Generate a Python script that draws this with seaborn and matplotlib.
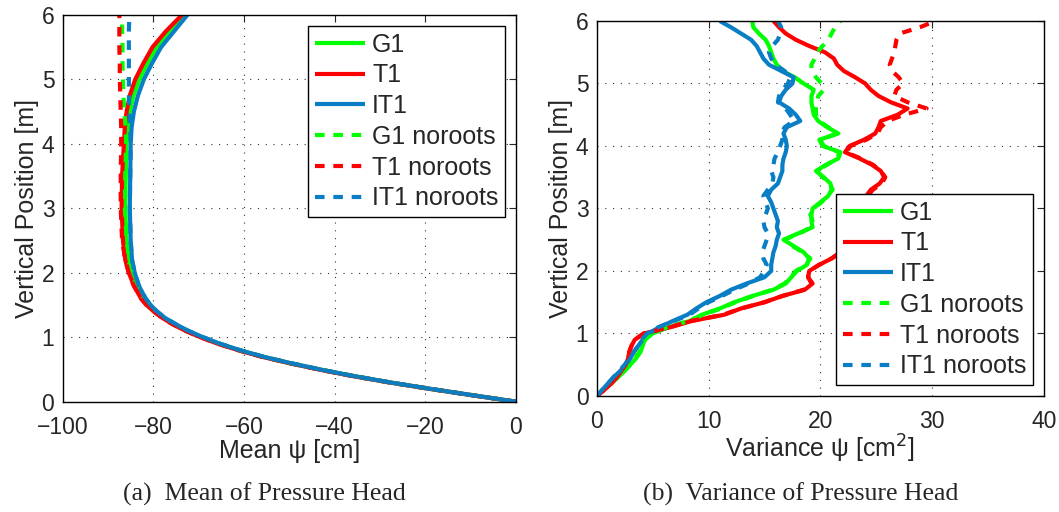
import numpy as np
import pandas as pd
import matplotlib
matplotlib.use("Agg")
import matplotlib.pyplot as plt
import seaborn as sns

# ---------------- data ----------------
series_names = ["G1", "T1", "IT1", "G1 noroots", "T1 noroots", "IT1 noroots"]

mean_depth = [0.0, 0.1, 0.2, 0.3, 0.4, 0.5, 0.6, 0.7, 0.8, 0.9, 1.0, 1.1, 1.2, 1.3, 1.4, 1.5,
              1.6, 1.8, 2.0, 2.2, 2.5, 3.0, 3.5, 4.0, 4.25, 4.5, 4.75, 5.0, 5.25, 5.5, 5.75, 6.0]

mean_G1 = [0.0, -9.5, -19.0, -27.9, -36.0, -43.3, -50.0, -56.0, -61.1, -65.5, -69.3, -72.6, -75.4, -77.7,
           -79.5, -81.0, -82.2, -83.7, -84.8, -85.5, -85.9, -86.2, -86.1, -85.9, -85.6, -85.2, -84.4,
           -83.1, -81.3, -79.3, -76.3, -73.1]
mean_T1 = [0.0, -9.6, -19.1, -28.0, -36.2, -43.5, -50.1, -56.2, -61.3, -65.8, -69.6, -72.9, -75.7, -78.0,
           -79.9, -81.5, -82.7, -84.3, -85.4, -86.2, -86.7, -87.0, -86.9, -86.5, -86.3, -85.9, -85.2,
           -84.0, -82.2, -80.2, -77.2, -73.7]
mean_IT1 = [0.0, -9.5, -18.9, -27.8, -35.9, -43.2, -49.8, -55.8, -60.9, -65.3, -69.0, -72.3, -75.0, -77.4,
            -79.2, -80.6, -81.7, -83.2, -84.1, -84.7, -85.0, -85.2, -85.1, -85.0, -84.8, -84.3, -83.4,
            -82.1, -80.3, -78.3, -75.4, -72.5]
mean_G1_nr = [0.0, -9.5, -19.0, -27.9, -36.0, -43.3, -50.0, -56.0, -61.1, -65.5, -69.3, -72.6, -75.4, -77.7,
              -79.5, -81.0, -82.2, -83.7, -84.8, -85.5, -85.9, -86.3, -86.2, -86.0, -86.1, -86.4, -86.6,
              -86.7, -86.8, -86.8, -86.9, -86.9]
mean_T1_nr = [0.0, -9.6, -19.1, -28.0, -36.2, -43.5, -50.1, -56.2, -61.3, -65.8, -69.6, -72.9, -75.7, -78.0,
              -79.9, -81.5, -82.7, -84.3, -85.4, -86.2, -86.9, -87.2, -87.2, -87.1, -87.1, -87.2, -87.3,
              -87.4, -87.4, -87.5, -87.5, -87.5]
mean_IT1_nr = [0.0, -9.5, -18.9, -27.8, -35.9, -43.2, -49.8, -55.8, -60.9, -65.3, -69.0, -72.3, -75.0, -77.4,
               -79.2, -80.6, -81.7, -83.2, -84.1, -84.7, -85.0, -85.2, -85.1, -85.0, -85.1, -85.3, -85.4,
               -85.4, -85.4, -85.4, -85.4, -85.3]

var_depth = [0.0, 0.1, 0.2, 0.3, 0.4, 0.5, 0.6, 0.7, 0.8, 0.9,
             1.0, 1.1, 1.2, 1.3, 1.4, 1.5, 1.6, 1.7, 1.8, 1.9,
             2.0, 2.1, 2.2, 2.3, 2.4, 2.5, 2.6, 2.7, 2.8, 2.9,
             3.0, 3.1, 3.2, 3.3, 3.4, 3.5, 3.6, 3.7, 3.8, 3.9,
             4.0, 4.1, 4.2, 4.3, 4.4, 4.5, 4.6, 4.7, 4.8, 4.9,
             5.0, 5.1, 5.2, 5.3, 5.4, 5.5, 5.6, 5.7, 5.8, 5.9, 6.0]

var_G1 = [0.0, 0.6, 1.3, 1.9, 2.5, 3.0, 3.5, 3.9, 4.1, 4.3,
          5.0, 6.4, 8.3, 9.4, 11.0, 12.3, 13.9, 15.8, 16.9, 17.4,
          17.9, 18.8, 19.0, 18.5, 17.6, 16.7, 18.0, 19.3, 19.2, 19.2,
          19.3, 20.0, 20.7, 21.0, 20.9, 20.3, 19.6, 20.5, 21.6, 21.8,
          20.2, 19.9, 21.6, 20.6, 19.8, 19.4, 19.3, 19.2, 19.2, 19.4,
          18.5, 17.7, 16.6, 16.1, 15.8, 15.6, 15.4, 15.1, 14.5, 14.0, 13.9]
var_T1 = [0.0, 0.7, 1.3, 1.8, 2.2, 2.6, 2.8, 2.9, 3.1, 3.4,
          4.2, 6.6, 8.5, 11.4, 12.9, 15.0, 16.6, 18.6, 19.3, 18.9,
          19.0, 19.9, 21.0, 21.8, 22.5, 23.2, 23.8, 24.3, 24.6, 24.8,
          25.0, 25.0, 24.1, 24.5, 25.3, 25.7, 25.4, 24.6, 23.5, 22.2,
          22.6, 23.9, 24.9, 25.2, 25.4, 26.9, 27.8, 26.3, 25.2, 24.5,
          24.0, 23.1, 22.1, 21.5, 21.2, 20.4, 19.0, 17.8, 16.9, 16.3, 15.8]
var_IT1 = [0.0, 0.5, 1.0, 1.5, 2.1, 2.6, 3.0, 3.3, 3.7, 4.1,
           4.6, 5.6, 6.8, 8.1, 8.9, 9.8, 11.0, 12.0, 13.4, 15.0,
           15.6, 15.6, 15.7, 15.8, 16.0, 16.1, 16.3, 16.1, 16.2, 16.0,
           15.8, 15.6, 15.3, 15.6, 16.2, 16.4, 16.6, 16.6, 16.7, 16.9,
           17.0, 16.9, 16.7, 17.0, 18.2, 17.8, 17.2, 16.3, 16.5, 16.9,
           17.5, 17.6, 16.5, 15.4, 14.9, 14.6, 14.3, 13.8, 12.9, 12.0, 11.0]
var_G1_nr = [0.0, 0.6, 1.2, 1.9, 2.4, 3.0, 3.4, 3.8, 4.1, 4.3,
             4.9, 6.3, 8.2, 9.5, 11.1, 12.4, 14.0, 15.7, 16.8, 17.3,
             17.8, 18.7, 19.1, 18.4, 17.5, 16.8, 18.1, 19.2, 19.3, 19.1,
             19.4, 20.1, 20.6, 21.1, 20.8, 20.2, 19.7, 20.6, 21.5, 21.7,
             20.3, 20.0, 21.5, 20.7, 19.9, 19.6, 19.6, 19.7, 19.8, 20.3,
             20.1, 19.6, 19.2, 19.2, 19.5, 19.7, 20.2, 20.7, 21.0, 21.3, 21.8]
var_T1_nr = [0.0, 0.7, 1.3, 1.8, 2.2, 2.6, 2.8, 2.9, 3.1, 3.4,
             4.2, 6.5, 8.4, 11.3, 12.9, 15.0, 16.6, 18.5, 19.2, 18.9,
             19.0, 19.9, 21.0, 21.8, 22.5, 23.2, 23.8, 24.3, 24.6, 24.8,
             25.0, 25.0, 24.2, 24.7, 25.5, 25.8, 25.4, 24.7, 23.6, 22.3,
             22.7, 24.1, 25.1, 25.4, 26.0, 27.5, 29.5, 27.8, 26.6, 26.8,
             27.4, 27.0, 26.4, 26.2, 26.4, 26.6, 26.7, 26.8, 27.1, 28.9, 30.3]
var_IT1_nr = [0.0, 0.5, 1.0, 1.5, 2.0, 2.5, 2.9, 3.3, 3.7, 4.0,
              4.5, 5.5, 6.9, 8.3, 9.1, 10.0, 11.2, 12.3, 13.6, 14.6,
              15.0, 15.2, 14.9, 14.8, 15.0, 15.2, 15.3, 15.0, 14.9, 15.1,
              15.3, 15.1, 14.9, 15.3, 15.7, 15.8, 15.6, 15.8, 15.9, 16.2,
              16.4, 16.6, 16.5, 16.8, 17.6, 17.3, 16.9, 16.2, 16.3, 16.6,
              17.1, 17.3, 16.8, 16.0, 15.6, 15.4, 15.7, 16.2, 16.4, 16.5, 16.2]

mean_series = [mean_G1, mean_T1, mean_IT1, mean_G1_nr, mean_T1_nr, mean_IT1_nr]
var_series = [var_G1, var_T1, var_IT1, var_G1_nr, var_T1_nr, var_IT1_nr]

x_ticks_mean = [-100, -80, -60, -40, -20, 0]
x_ticks_var = [0, 10, 20, 30, 40]
y_ticks = [0, 1, 2, 3, 4, 5, 6]

# ---------------- style ----------------
sns.set_style("white")
plt.rcParams['font.family'] = ['Liberation Sans', 'DejaVu Sans']

colors = ['#00ff00', '#ff0000', '#0a7ec4', '#00ff00', '#ff0000', '#0a7ec4']
styles = ['-', '-', '-', (0, (2.3, 2.1)), (0, (2.3, 2.1)), (0, (2.3, 2.1))]
LW = 3.0

fig = plt.figure(figsize=(10.59, 5.12), dpi=100)
ax1 = fig.add_axes([0.0592, 0.2154, 0.4280, 0.7553])
ax2 = fig.add_axes([0.5635, 0.2266, 0.4224, 0.7324])

def draw(ax, depth, series):
    for name, vals, c, ls in zip(series_names, series, colors, styles):
        df = pd.DataFrame({"x": vals, "y": depth})
        sns.lineplot(data=df, x="x", y="y", sort=False, estimator=None, ax=ax,
                     color=c, linestyle=ls, linewidth=LW, label=name,
                     solid_capstyle='butt', dash_capstyle='butt')

draw(ax1, mean_depth, mean_series)
draw(ax2, var_depth, var_series)

def style_axes(ax, xlim, xticks, xlabel):
    ax.set_xlim(*xlim)
    ax.set_ylim(0, 6)
    ax.set_xticks(xticks)
    ax.set_yticks(y_ticks)
    ax.grid(True, color='#333333', linestyle=(0, (1, 6)), linewidth=0.8)
    ax.set_axisbelow(True)
    ax.tick_params(direction='in', top=True, right=True, length=5, width=0.8,
                   labelsize=16.5)
    ax.tick_params(axis='x', pad=10)
    ax.tick_params(axis='y', pad=6)
    for s in ax.spines.values():
        s.set_color('black')
        s.set_linewidth(1.0)
    ax.set_xlabel(xlabel, fontsize=18, labelpad=0)
    ax.set_ylabel("Vertical Position [m]", fontsize=18, labelpad=2)

style_axes(ax1, (-100, 0), x_ticks_mean, "Mean ψ [cm]")
style_axes(ax2, (0, 40), x_ticks_var, "Variance ψ [cm$^2$]")

leg_kw = dict(fontsize=18, frameon=True, fancybox=False, edgecolor='black', framealpha=1,
              handlelength=2.0, handletextpad=0.3, labelspacing=0.27, borderpad=0.25,
              borderaxespad=0.45)
l1 = ax1.legend(loc='upper right', **leg_kw)
l2 = ax2.legend(loc='lower right', **leg_kw)
for l in (l1, l2):
    l.get_frame().set_linewidth(1.0)

fig.text(0.250, 0.035, "(a)  Mean of Pressure Head", ha='center', va='center',
         fontsize=18.5, family='Liberation Serif')
fig.text(0.756, 0.035, "(b)  Variance of Pressure Head", ha='center', va='center',
         fontsize=18.5, family='Liberation Serif')

fig.savefig("out.png", dpi=100)
